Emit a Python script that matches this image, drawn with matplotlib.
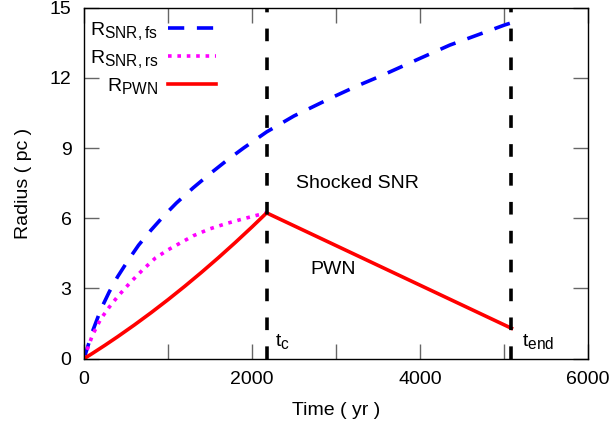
import matplotlib
matplotlib.use("Agg")
import matplotlib.pyplot as plt
import matplotlib._mathtext as _mt

_mt.SHRINK_FACTOR = 0.8

plt.rcParams['font.family'] = ['Liberation Sans', 'DejaVu Sans']
plt.rcParams['mathtext.fontset'] = 'custom'
plt.rcParams['mathtext.rm'] = 'Liberation Sans'
plt.rcParams['mathtext.it'] = 'Liberation Sans'

# Data (time in yr, radius in pc)
t_fs = [0, 100, 200, 300, 400, 525, 650, 800, 950, 1100, 1300, 1500, 1700, 1900, 2175,
        2500, 2965, 3250, 3560, 3950, 4357, 4700, 5010, 5090]
r_fs = [0, 1.15, 2.1, 2.85, 3.5, 4.2, 4.85, 5.5, 6.1, 6.65, 7.3, 7.9, 8.47, 9.0, 9.69,
        10.37, 11.18, 11.65, 12.12, 12.75, 13.4, 13.85, 14.26, 14.35]

t_rs = [0, 100, 200, 300, 400, 550, 700, 850, 1000, 1150, 1300, 1500, 1700, 1900, 2050, 2175]
r_rs = [0, 1.0, 1.7, 2.2, 2.65, 3.25, 3.8, 4.3, 4.65, 4.95, 5.25, 5.55, 5.78, 5.98, 6.12, 6.23]

t_pwn = [0, 100, 250, 400, 600, 800, 1000, 1200, 1400, 1600, 1800, 2000, 2175, 5090]
r_pwn = [0, 0.226, 0.575, 0.938, 1.442, 1.969, 2.52, 3.095, 3.693, 4.314, 4.959, 5.627, 6.23, 1.3]

t_c = 2175
t_end = 5090

x_ticks = [0, 1000, 2000, 3000, 4000, 5000, 6000]
x_labels = ['0', '', '2000', '', '4000', '', '6000']
y_ticks = [0, 3, 6, 9, 12, 15]

FS = 14

fig = plt.figure(figsize=(6.13, 4.23), dpi=100)
ax = fig.add_axes([0.137, 0.152, 0.822, 0.830])

ax.plot(t_fs, r_fs, color='#0000ff', lw=2.6, dashes=(4.5, 3.5), label=r'R$_\mathregular{SNR,fs}$')
ax.plot(t_rs, r_rs, color='#ff00ff', lw=2.6, linestyle=(0, (1, 1.6)), label=r'R$_\mathregular{SNR,rs}$')
ax.plot(t_pwn, r_pwn, color='#ff0000', lw=2.6, label=r'R$_\mathregular{PWN}$')

for tv in (t_c, t_end):
    ax.axvline(tv, color='black', lw=2.6, dashes=(3.5, 4.5))

ax.text(3260, 7.5, 'Shocked SNR', fontsize=FS, ha='center', va='center')
ax.text(2965, 3.8, 'PWN', fontsize=FS, ha='center', va='center')
ax.text(2270, 0.75, r't$_\mathregular{c}$', fontsize=FS, ha='left', va='center')
ax.text(5210, 0.75, r't$_\mathregular{end}$', fontsize=FS, ha='left', va='center')

ax.set_xlim(0, 6000)
ax.set_ylim(0, 15)
ax.set_xticks(x_ticks)
ax.set_xticklabels(x_labels)
ax.set_yticks(y_ticks)
ax.tick_params(direction='in', length=11, width=1, color='#666666', top=True, right=True,
               labelsize=FS, pad=9)
for s in ax.spines.values():
    s.set_linewidth(1.0)
    s.set_color('black')

ax.set_xlabel('Time ( yr )', fontsize=FS, labelpad=10)
ax.set_ylabel('Radius ( pc )', fontsize=FS, labelpad=13)

leg = ax.legend(loc='upper left', markerfirst=False, frameon=False, fontsize=FS,
                handlelength=2.5, handletextpad=0.5, labelspacing=0.33,
                borderaxespad=0.25, bbox_to_anchor=(-0.014, 1.0))
for t in leg.get_texts():
    t.set_ha('right')

fig.savefig('out.png', dpi=100)
